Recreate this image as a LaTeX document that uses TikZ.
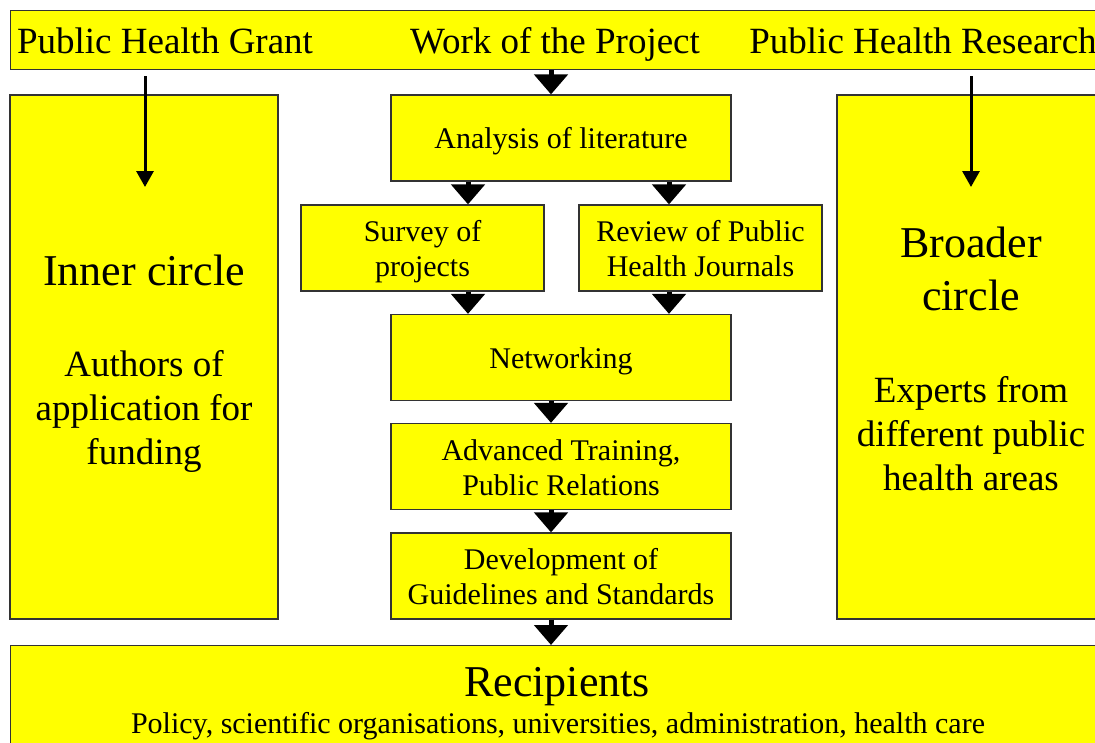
\documentclass[tikz,border=0pt]{standalone}
\usepackage{fontspec}
\setmainfont{Liberation Serif}
\usetikzlibrary{arrows.meta}

\definecolor{boxyellow}{RGB}{255,255,0}

\tikzset{
  box/.style={draw=black!80, line width=1.2pt, fill=boxyellow, inner sep=0pt},
  stepbox/.style={box, align=center, minimum width=340pt, minimum height=86pt,
    font=\fontsize{30}{35}\selectfont},
  oneline/.style={text height=23pt, text depth=2pt},
  twoline/.style={text height=58pt, text depth=1pt},
  bartext/.style={anchor=base, inner sep=0pt, font=\fontsize{37}{44}\selectfont},
  headtext/.style={anchor=base, inner sep=0pt, align=center, font=\fontsize{44}{53}\selectfont},
  bodytext/.style={anchor=base, inner sep=0pt, align=center, font=\fontsize{37}{44}\selectfont},
  bigarrow/.style={-{Triangle[width=33pt,length=20pt]}, line width=5pt},
  thinarrow/.style={-{Triangle[width=17pt,length=16pt]}, line width=3pt},
}

\begin{document}
\begin{tikzpicture}[x=1pt, y=-1pt]

\useasboundingbox (0,0) rectangle (1095,742);
\clip (0,0) rectangle (1095,742);
\fill[white] (0,0) rectangle (1095,742);

% top bar
\node[box, anchor=north west, minimum width=1100pt, minimum height=59pt] (bar) at (10,10) {};
\node[bartext] (grant) at (165,53) {Public Health Grant};
\node[bartext] (work) at (555,53) {Work of the Project};
\node[bartext] (research) at (923,53) {Public Health Research};

% side boxes (base = last line)
\node[box, minimum width=268pt, minimum height=524pt] (inner) at (144,357) {};
\node[headtext] (innertitle) at (144,285) {Inner circle};
\node[bodytext] (innerbody) at (144,464) {Authors of\\application for\\funding};

\node[box, minimum width=268pt, minimum height=524pt] (broader) at (971,357) {};
\node[headtext] (broadertitle) at (971,310) {Broader\\circle};
\node[bodytext] (broaderbody) at (971,490) {Experts from\\different public\\health areas};

% steps of the project
\node[stepbox, oneline] (analysis) at (561,138) {Analysis of literature};
\node[stepbox, twoline, minimum width=243pt] (survey) at (422.5,248) {Survey of\\projects};
\node[stepbox, twoline, minimum width=243pt] (review) at (700.5,248) {Review of Public\\Health Journals};
\node[stepbox, oneline] (networking) at (561,357.5) {Networking};
\node[stepbox, twoline] (training) at (561,466.5) {Advanced Training,\\Public Relations};
\node[stepbox, twoline] (guidelines) at (561,576) {Development of\\Guidelines and Standards};

% recipients
\node[box, anchor=north west, minimum width=1100pt, minimum height=150pt] (recipients) at (10,645) {};
\node[headtext] (recipientstitle) at (557,696) {Recipients};
\node[bodytext, font=\fontsize{30}{35}\selectfont] (recipientsbody) at (558,733)
  {Policy, scientific organisations, universities, administration, health care};

% arrow columns
\coordinate (colL) at (468,0);
\coordinate (colM) at (551,0);
\coordinate (colR) at (669,0);
\coordinate (granttip) at (145,187);
\coordinate (researchtip) at (971,187);

\draw[bigarrow] (bar.south -| colM) -- (analysis.north -| colM);
\draw[bigarrow] (analysis.south -| colL) -- (survey.north -| colL);
\draw[bigarrow] (analysis.south -| colR) -- (review.north -| colR);
\draw[bigarrow] (survey.south -| colL) -- (networking.north -| colL);
\draw[bigarrow] (review.south -| colR) -- (networking.north -| colR);
\draw[bigarrow] (networking.south -| colM) -- (training.north -| colM);
\draw[bigarrow] (training.south -| colM) -- (guidelines.north -| colM);
\draw[bigarrow] (guidelines.south -| colM) -- (recipients.north -| colM);

\draw[thinarrow, shorten <=6pt] (bar.south -| granttip) -- (granttip);
\draw[thinarrow, shorten <=6pt] (bar.south -| researchtip) -- (researchtip);

\end{tikzpicture}
\end{document}
